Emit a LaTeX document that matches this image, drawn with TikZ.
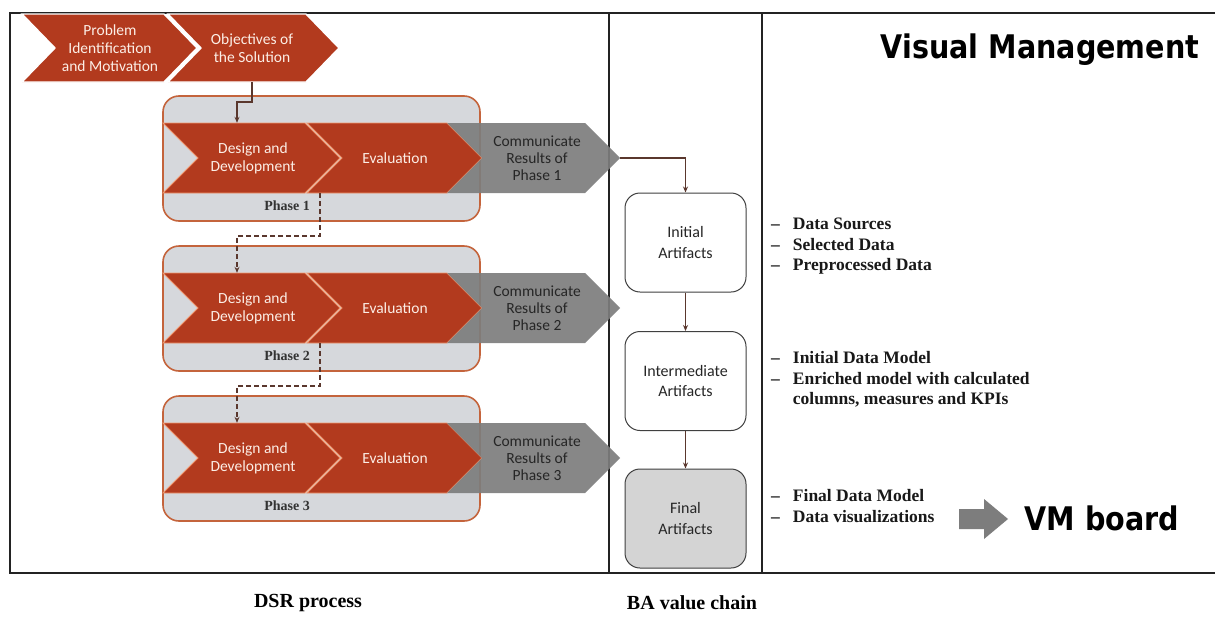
\documentclass[tikz,border=0pt]{standalone}
\usepackage{fontspec}
\setmainfont{Liberation Serif}
\newfontfamily\chevfont{Carlito}
\newfontfamily\vmfont[FakeStretch=0.88]{DejaVu Sans}
\usetikzlibrary{calc,arrows.meta}
\definecolor{chevred}{RGB}{178,58,30}
\definecolor{chevedge}{RGB}{240,150,110}
\definecolor{boxline}{RGB}{196,100,60}
\definecolor{boxfill}{RGB}{214,216,220}
\definecolor{commgray}{RGB}{125,125,125}
\definecolor{linkbrown}{RGB}{90,55,45}
\definecolor{chevtext}{RGB}{252,238,230}
\definecolor{framecol}{RGB}{35,35,35}
\definecolor{finalfill}{RGB}{212,212,212}
\newcommand\mychev[6]{\path[#6] (#1,#3) -- (#2,#3) -- ({#2+#5},{(#3+#4)/2}) -- (#2,#4) -- (#1,#4) -- ({#1+#5},{(#3+#4)/2}) -- cycle;}
\tikzset{
  redchev/.style={fill=chevred, draw=chevedge, line width=0.9pt},
  topchev/.style={fill=chevred, draw=white, line width=1.4pt},
  graychev/.style={fill=commgray, fill opacity=0.92, draw=none},
  phasebox/.style={draw=boxline, line width=1.6pt, fill=boxfill, rounded corners=16pt},
  chevtxt/.style={text=chevtext, align=center, inner sep=0pt, font=\chevfont\fontsize{15.5}{18}\selectfont},
  commtxt/.style={text=black!85, align=center, inner sep=0pt, font=\chevfont\fontsize{15.5}{17}\selectfont},
  phaselbl/.style={text=black!80, inner sep=0pt, font=\bfseries\fontsize{14}{16}\selectfont},
  artbox/.style={draw=black!75, line width=1pt, rounded corners=15pt, minimum width=121pt, minimum height=99pt, align=center, inner sep=0pt, text=black!85, font=\chevfont\fontsize{16}{20.5}\selectfont},
  link/.style={draw=linkbrown, line width=1.5pt, -{Stealth[length=6pt,width=5pt]}},
  dlink/.style={link, dash pattern=on 5pt off 3pt},
  bullets/.style={anchor=west, inner sep=0pt, text=black!90, font=\bfseries\fontsize{17.5}{20.5}\selectfont},
  framel/.style={draw=framecol, line width=1.5pt},
  caption/.style={inner sep=0pt, font=\bfseries\fontsize{20}{24}\selectfont}
}
\begin{document}
\begin{tikzpicture}[x=1pt,y=-1pt]
\useasboundingbox (0,0) rectangle (1215,616);
\fill[white] (0,0) rectangle (1215,616);
% frame
\draw[framel] (1215,13) -- (10,13) -- (10,573) -- (1215,573);
\draw[framel] (609,13) -- (609,573);
\draw[framel] (762,13) -- (762,573);
% top chevrons
\mychev{22}{164}{14}{82}{33}{topchev}
\mychev{168}{306}{14}{82}{33}{topchev}
\node[chevtxt, minimum height=68pt] (pim) at (110,48) {Problem\\Identification\\and Motivation};
\node[chevtxt, minimum height=68pt] (obj) at (252,48) {Objectives of\\the Solution};
% phases
\foreach \k/\o in {1/0,2/150,3/300}{
  \path[phasebox] (163,96+\o) rectangle (480,221+\o);
  \mychev{163}{305}{123+\o}{193+\o}{35}{redchev}
  \mychev{307}{447}{123+\o}{193+\o}{35}{redchev}
  \mychev{447}{585}{123+\o}{193+\o}{35}{graychev}
  \node[chevtxt, minimum height=70pt] (d\k) at (253,158+\o) {Design and\\Development};
  \node[chevtxt, minimum height=70pt] (e\k) at (395,158+\o) {Evaluation};
  \node[commtxt, minimum height=70pt] (c\k) at (537,158+\o) {Communicate\\Results of\\Phase \k};
  \coordinate (t\k) at (620,158+\o);
  \node[phaselbl] (p\k) at (287,206+\o) {Phase \k};
}
% connectors in DSR
\draw[link] (obj.south) -- ++(0,20) -| ($(d1.north)+(-16,0)$);
\draw[dlink] ($(d1.south)+(67,0)$) -- ++(0,43) -| ($(d2.north)+(-16,0)$);
\draw[dlink] ($(d2.south)+(67,0)$) -- ++(0,43) -| ($(d3.north)+(-16,0)$);
% artifacts
\node[artbox, fill=white] (init) at (685.5,242.5) {Initial\\Artifacts};
\node[artbox, fill=white] (inter) at (685.5,381) {Intermediate\\Artifacts};
\node[artbox, fill=finalfill] (final) at (685.5,518.5) {Final\\Artifacts};
\draw[link] (t1) -| (init.north);
\draw[link] (init.south) -- (inter.north);
\draw[link] (inter.south) -- (final.north);
% bullets
\node[bullets] (b1) at (771,246) {\begin{tabular}{@{}l@{\hspace{13pt}}l@{}}–&Data Sources\\–&Selected Data\\–&Preprocessed Data\end{tabular}};
\node[bullets] (b2) at (771,380) {\begin{tabular}{@{}l@{\hspace{13pt}}l@{}}–&Initial Data Model\\–&Enriched model with calculated\\&columns, measures and KPIs\end{tabular}};
\node[bullets] (b3) at (771,508) {\begin{tabular}{@{}l@{\hspace{13pt}}l@{}}–&Final Data Model\\–&Data visualizations\end{tabular}};
% VM
\node[inner sep=0pt, font=\vmfont\bfseries\fontsize{32.5}{36}\selectfont] (vm) at (1040,50) {Visual Management};
\fill[commgray] (959,509) -- (984,509) -- (984,499) -- (1008,519) -- (984,539) -- (984,529) -- (959,529) -- cycle;
\node[inner sep=0pt, font=\vmfont\bfseries\fontsize{32.5}{36}\selectfont] (vmb) at (1102,518) {VM board};
% captions
\node[caption] (dsr) at (308,603) {DSR process};
\node[caption] (ba) at (692,603) {BA value chain};
\end{tikzpicture}
\end{document}
